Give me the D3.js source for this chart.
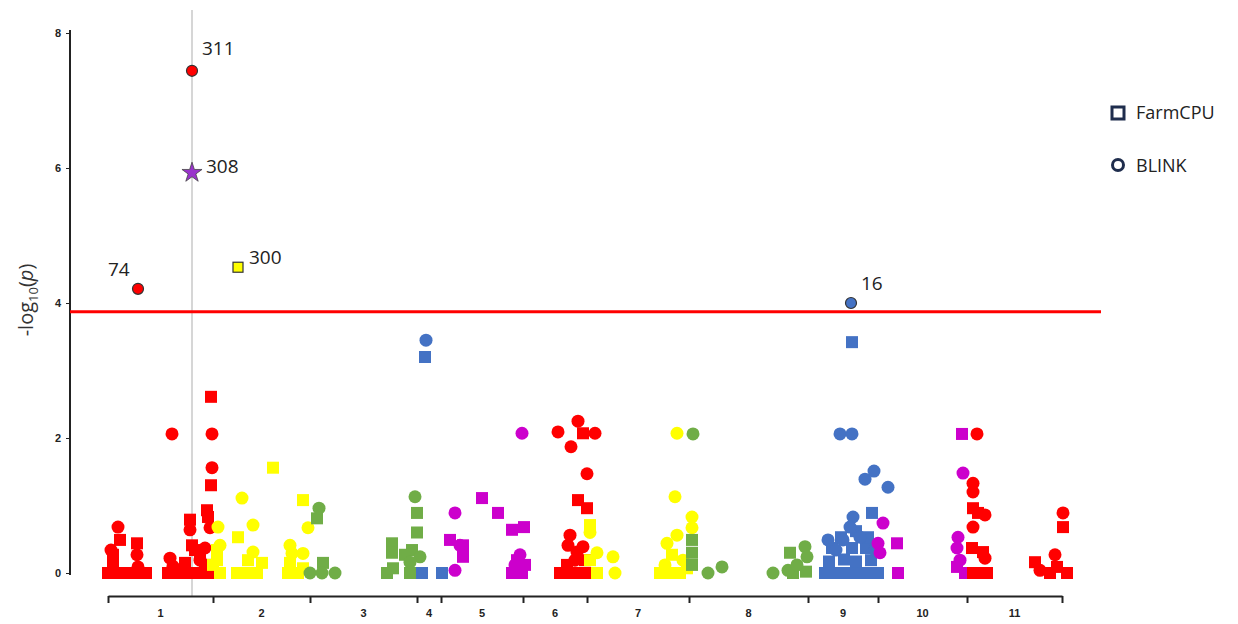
<!DOCTYPE html>
<html>
<head>
<meta charset="utf-8">
<script src="https://cdn.jsdelivr.net/npm/d3@7"></script>
<style>
  body { margin: 0; background: #fff; }
  svg { display: block; }
</style>
</head>
<body>
<svg id="chart" width="1238" height="624"></svg>
<script>
// chromosome boundaries (cumulative position) and labels
const chromBounds = [0, 105, 202, 309, 333, 415, 479, 581, 700, 770, 859, 954];
const chromNames = ['1', '2', '3', '4', '5', '6', '7', '8', '9', '10', '11'];
const yTicks = [0, 2, 4, 6, 8];
const threshold = 3.87;
const markerPos = 84; // grey line through the top hits

// markers per chromosome: [position, -log10(p), method]  F = FarmCPU, B = BLINK
const chr1 = [
  [10, 0.68, 'B'], [3, 0.34, 'B'], [29, 0.27, 'B'], [30, 0.09, 'B'], [62, 0.22, 'B'],
  [65, 0.1, 'B'], [82, 0.64, 'B'], [102, 0.67, 'B'], [104, 2.06, 'B'], [64, 2.06, 'B'],
  [104, 1.56, 'B'], [92, 0.19, 'B'], [97, 0.37, 'B'],
  [12, 0.49, 'F'], [5, 0.16, 'F'], [0, 0, 'F'], [7, 0, 'F'], [14, 0, 'F'], [20, 0, 'F'],
  [27, 0, 'F'], [33, 0, 'F'], [38, 0, 'F'], [29, 0.44, 'F'], [5, 0.27, 'F'],
  [60, 0, 'F'], [66, 0, 'F'], [72, 0, 'F'], [78, 0, 'F'], [84, 0, 'F'],
  [82, 0.79, 'F'], [87, 0.34, 'F'], [84, 0.41, 'F'], [92, 0.27, 'F'], [99, 0.93, 'F'],
  [100, 0.83, 'F'], [103, 2.61, 'F'], [103, 1.3, 'F'], [97, 0.12, 'F'], [102, 0, 'F'],
  [90, 0, 'F'], [77, 0.15, 'F'], [72, 0.05, 'F']
];
const chr2 = [
  [134, 1.11, 'B'], [110, 0.68, 'B'], [145, 0.71, 'B'], [200, 0.67, 'B'], [145, 0.31, 'B'],
  [182, 0.41, 'B'], [184, 0.29, 'B'], [195, 0.29, 'B'], [112, 0.41, 'B'],
  [165, 1.56, 'F'], [195, 1.08, 'F'], [130, 0.53, 'F'], [109, 0.34, 'F'], [109, 0.19, 'F'],
  [112, 0, 'F'], [140, 0.19, 'F'], [154, 0.15, 'F'], [129, 0, 'F'], [139, 0, 'F'],
  [149, 0, 'F'], [182, 0.15, 'F'], [190, 0, 'F'], [195, 0.07, 'F'], [180, 0, 'F'], [105, 0.12, 'F']
];
const chr3 = [
  [211, 0.96, 'B'], [202, 0, 'B'], [214, 0, 'B'], [227, 0, 'B'], [307, 1.13, 'B'],
  [312, 0.24, 'B'], [302, 0.16, 'B'],
  [209, 0.81, 'F'], [215, 0.15, 'F'], [309, 0.89, 'F'], [309, 0.6, 'F'], [284, 0.44, 'F'],
  [284, 0.3, 'F'], [304, 0.34, 'F'], [279, 0, 'F'], [285, 0.07, 'F'], [302, 0, 'F'], [297, 0.27, 'F']
];
const chr4 = [
  [318, 3.45, 'B'],
  [317, 3.2, 'F'], [314, 0, 'F'], [334, 0, 'F']
];
const chr5 = [
  [347, 0.89, 'B'], [347, 0.04, 'B'], [414, 2.07, 'B'], [407, 0.12, 'B'], [412, 0.27, 'B'],
  [352, 0.41, 'B'],
  [374, 1.11, 'F'], [390, 0.89, 'F'], [342, 0.49, 'F'], [355, 0.41, 'F'], [355, 0.24, 'F'],
  [404, 0.64, 'F'], [416, 0.68, 'F'], [404, 0, 'F'], [414, 0, 'F'], [409, 0.19, 'F'], [417, 0.12, 'F']
];
const chr6 = [
  [450, 2.09, 'B'], [470, 2.25, 'B'], [463, 1.87, 'B'], [487, 2.07, 'B'], [479, 1.47, 'B'],
  [462, 0.56, 'B'], [460, 0.41, 'B'], [469, 0.31, 'B'], [475, 0.39, 'B'], [467, 0.19, 'B'],
  [475, 2.07, 'F'], [470, 1.08, 'F'], [479, 0.96, 'F'], [452, 0, 'F'], [459, 0.12, 'F'],
  [462, 0, 'F'], [472, 0, 'F'], [479, 0, 'F'], [477, 0.19, 'F']
];
const chr7 = [
  [482, 0.6, 'B'], [489, 0.3, 'B'], [505, 0.24, 'B'], [507, 0, 'B'], [569, 2.07, 'B'],
  [567, 1.13, 'B'], [584, 0.83, 'B'], [584, 0.67, 'B'], [559, 0.44, 'B'], [569, 0.56, 'B'],
  [557, 0.12, 'B'], [575, 0.19, 'B'],
  [482, 0.71, 'F'], [489, 0, 'F'], [482, 0.19, 'F'], [552, 0, 'F'], [562, 0, 'F'],
  [572, 0, 'F'], [579, 0.07, 'F'], [564, 0.27, 'F']
];
const chr8 = [
  [585, 2.06, 'B'], [600, 0, 'B'], [614, 0.09, 'B'], [665, 0, 'B'], [680, 0.04, 'B'],
  [697, 0.39, 'B'], [699, 0.24, 'B'], [689, 0.12, 'B'],
  [584, 0.49, 'F'], [584, 0.3, 'F'], [584, 0.12, 'F'], [682, 0.3, 'F'], [685, 0, 'F'], [698, 0.02, 'F']
];
const chr9 = [
  [732, 2.06, 'B'], [744, 2.06, 'B'], [757, 1.39, 'B'], [766, 1.51, 'B'], [780, 1.27, 'B'],
  [745, 0.83, 'B'], [742, 0.68, 'B'], [735, 0.49, 'B'], [752, 0.53, 'B'], [767, 0.34, 'B'],
  [720, 0.49, 'B'], [728, 0.34, 'B'],
  [744, 3.42, 'F'], [764, 0.89, 'F'],
  [717, 0, 'F'], [728, 0, 'F'], [739, 0, 'F'], [750, 0, 'F'], [761, 0, 'F'], [770, 0, 'F'],
  [721, 0.17, 'F'], [736, 0.2, 'F'], [748, 0.17, 'F'], [763, 0.19, 'F'],
  [724, 0.37, 'F'], [744, 0.37, 'F'], [758, 0.37, 'F'],
  [733, 0.53, 'F'], [760, 0.53, 'F'], [748, 0.62, 'F']
];
const chr10 = [
  [775, 0.74, 'B'], [770, 0.44, 'B'], [772, 0.3, 'B'], [855, 1.48, 'B'], [850, 0.53, 'B'],
  [849, 0.37, 'B'], [852, 0.19, 'B'],
  [789, 0.44, 'F'], [790, 0, 'F'], [854, 2.06, 'F'], [849, 0.09, 'F'], [857, 0, 'F']
];
const chr11 = [
  [869, 2.06, 'B'], [865, 1.33, 'B'], [865, 1.2, 'B'], [877, 0.86, 'B'], [865, 0.68, 'B'],
  [877, 0.22, 'B'], [955, 0.89, 'B'], [947, 0.27, 'B'], [932, 0.04, 'B'],
  [865, 0.96, 'F'], [870, 0.89, 'F'], [864, 0.37, 'F'], [875, 0.31, 'F'], [865, 0, 'F'],
  [872, 0, 'F'], [879, 0, 'F'], [955, 0.68, 'F'], [927, 0.16, 'F'], [942, 0, 'F'],
  [949, 0.09, 'F'], [959, 0, 'F']
];
const chroms = [chr1, chr2, chr3, chr4, chr5, chr6, chr7, chr8, chr9, chr10, chr11];

// labelled hits
const hitLabels = ['311', '308', '74', '300', '16'];
const hitChrom = [1, 0, 1, 2, 9];          // 0 = found by both (star)
const hitPos = [84, 84, 30, 130, 743];
const hitVal = [7.44, 5.93, 4.21, 4.53, 4.0];
const hitMethod = ['B', 'S', 'B', 'F', 'B'];

const legendNames = ['FarmCPU', 'BLINK'];

const chromColors = ['#ff0000', '#ffff00', '#70ad47', '#4472c4', '#cc00cc'];
const starColor = '#9933cc';
const outline = '#1f2d4d';

const svg = d3.select('#chart');

const x = d3.scaleLinear().domain([0, 954]).range([108, 1062]);
const y = d3.scaleLinear().domain([0, 8]).range([573, 33]);

// grey marker line
svg.append('line')
  .attr('x1', x(markerPos)).attr('x2', x(markerPos))
  .attr('y1', 10).attr('y2', 596)
  .attr('stroke', '#c8c8c8').attr('stroke-width', 1.5);

// y axis
const yAxis = svg.append('g')
  .attr('transform', 'translate(70,0)')
  .call(d3.axisLeft(y).tickValues(yTicks).tickSize(4).tickSizeOuter(0).tickPadding(5));
yAxis.select('.domain').attr('stroke', '#222').attr('stroke-width', 2)
  .attr('d', 'M0,30V575');
yAxis.selectAll('.tick line').attr('stroke', '#222');
yAxis.selectAll('.tick text')
  .attr('font-family', 'Liberation Sans, Arial, sans-serif')
  .attr('font-weight', 'bold').attr('font-size', 11).attr('fill', '#222');

// y title
const yt = svg.append('text')
  .attr('transform', 'translate(33,300) rotate(-90)')
  .attr('text-anchor', 'middle')
  .attr('font-family', 'Open Sans, sans-serif')
  .attr('font-size', 20).attr('fill', '#333');
yt.append('tspan').text('-log');
yt.append('tspan').attr('font-size', 13).attr('dy', 5).text('10');
yt.append('tspan').attr('dy', -5).text('(');
yt.append('tspan').attr('font-style', 'italic').text('p');
yt.append('tspan').text(')');

// x axis: chromosome boundaries
const xAxis = svg.append('g')
  .attr('transform', 'translate(0,596)')
  .call(d3.axisBottom(x).tickValues(chromBounds).tickSize(7).tickSizeOuter(0).tickFormat(''));
xAxis.select('.domain').attr('stroke', '#222').attr('stroke-width', 2);
xAxis.selectAll('.tick line').attr('stroke', '#222').attr('stroke-width', 2);

svg.append('g').selectAll('text')
  .data(chromNames)
  .join('text')
  .attr('x', (d, i) => x((chromBounds[i] + chromBounds[i + 1]) / 2))
  .attr('y', 617)
  .attr('text-anchor', 'middle')
  .attr('font-family', 'Liberation Sans, Arial, sans-serif')
  .attr('font-weight', 'bold').attr('font-size', 11).attr('fill', '#222')
  .text(d => d);

// threshold line
svg.append('line')
  .attr('x1', 70).attr('x2', 1101)
  .attr('y1', y(threshold)).attr('y2', y(threshold))
  .attr('stroke', '#ff0000').attr('stroke-width', 3);

// markers
const sq = 12, rad = 6.5;
chroms.forEach((pts, i) => {
  const g = svg.append('g').attr('fill', chromColors[i % 5]);
  g.selectAll('rect')
    .data(pts.filter(d => d[2] === 'F'))
    .join('rect')
    .attr('x', d => x(d[0]) - sq / 2)
    .attr('y', d => y(d[1]) - sq / 2)
    .attr('width', sq).attr('height', sq);
  g.selectAll('circle')
    .data(pts.filter(d => d[2] === 'B'))
    .join('circle')
    .attr('cx', d => x(d[0]))
    .attr('cy', d => y(d[1]))
    .attr('r', rad);
});

// labelled hits
const hits = hitLabels.map((l, i) => ({
  label: l, chrom: hitChrom[i], pos: hitPos[i], val: hitVal[i], method: hitMethod[i]
}));
const hg = svg.append('g');
hits.forEach(h => {
  const cx = x(h.pos), cy = y(h.val);
  const fill = h.chrom ? chromColors[(h.chrom - 1) % 5] : starColor;
  if (h.method === 'B') {
    hg.append('circle').attr('cx', cx).attr('cy', cy).attr('r', 5.5)
      .attr('fill', fill).attr('stroke', '#333').attr('stroke-width', 1.2);
  } else if (h.method === 'F') {
    hg.append('rect').attr('x', cx - 5).attr('y', cy - 5).attr('width', 10).attr('height', 10)
      .attr('fill', fill).attr('stroke', '#333').attr('stroke-width', 1.2);
  } else {
    hg.append('path')
      .attr('transform', `translate(${cx},${cy})`)
      .attr('d', d3.symbol(d3.symbolStar, 125)())
      .attr('fill', fill).attr('stroke', '#444').attr('stroke-width', 0.8);
  }
});

// hit labels
const labelOffset = {'311': [10, -22], '308': [14, -6], '74': [-30, -19], '300': [11, -10], '16': [10, -20]};
svg.append('g').selectAll('text')
  .data(hits)
  .join('text')
  .attr('x', d => x(d.pos) + labelOffset[d.label][0])
  .attr('y', d => y(d.val) + labelOffset[d.label][1])
  .attr('dy', '0.35em')
  .attr('font-family', 'Open Sans, sans-serif')
  .attr('font-size', 19).attr('fill', '#222')
  .text(d => d.label);

// legend
const lg = svg.append('g').attr('transform', 'translate(1118,0)');
lg.append('rect').attr('x', -6).attr('y', 107).attr('width', 12).attr('height', 12)
  .attr('fill', 'none').attr('stroke', outline).attr('stroke-width', 3);
lg.append('circle').attr('cx', 0).attr('cy', 165).attr('r', 5.5)
  .attr('fill', 'none').attr('stroke', outline).attr('stroke-width', 3);
lg.selectAll('text')
  .data(legendNames)
  .join('text')
  .attr('x', 18)
  .attr('y', (d, i) => 113 + i * 53)
  .attr('dy', '0.35em')
  .attr('font-family', 'Open Sans, sans-serif')
  .attr('font-size', 18).attr('fill', '#222')
  .text(d => d);
</script>
</body>
</html>
